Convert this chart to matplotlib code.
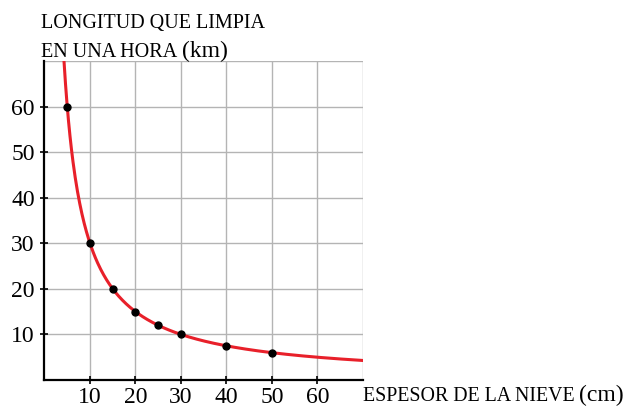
import numpy as np
import matplotlib.pyplot as plt

# snow depth (cm) vs length cleared in one hour (km)
espesor = [5, 10, 15, 20, 25, 30, 40, 50]
longitud = [60, 30, 20, 15, 12, 10, 7.5, 6]
k = 300  # longitud * espesor
x_ticks = [10, 20, 30, 40, 50, 60]
y_ticks = [10, 20, 30, 40, 50, 60]

plt.rcParams['font.family'] = ['Liberation Serif', 'DejaVu Serif']

fig = plt.figure(figsize=(6.24, 4.07), dpi=100)
ax = fig.add_axes([0.0713, 0.0663, 0.5104, 0.784])

xs = np.linspace(k / 70, 70, 400)
ax.plot(xs, k / xs, color='#e8202a', lw=2.2, zorder=3)
ax.plot(espesor, longitud, 'o', color='black', ms=5, zorder=4)

ax.set_xlim(0, 70)
ax.set_ylim(0, 70)
ax.set_xticks(x_ticks)
ax.set_yticks(y_ticks)
ax.set_xticks([70], minor=True)
ax.set_yticks([70], minor=True)
ax.grid(True, which='both', color='#b4b4b4', lw=1.0)
ax.tick_params(which='major', direction='inout', length=6, width=1.2,
               labelsize=17, colors='black')
ax.tick_params(axis='x', pad=2)
ax.tick_params(axis='y', pad=4)
ax.tick_params(which='minor', length=0)
for s in ['top', 'right']:
    ax.spines[s].set_visible(False)
for s in ['left', 'bottom']:
    ax.spines[s].set_linewidth(1.6)

fig.text(0.066, 1 - 28 / 407, 'LONGITUD QUE LIMPIA', fontsize=14.5, va='baseline')
fig.text(0.066, 1 - 57 / 407, 'EN UNA HORA', fontsize=14.5, va='baseline')
fig.text(182 / 624, 1 - 57 / 407, '(km)', fontsize=17, va='baseline')
fig.text(363 / 624, 1 - 401 / 407, 'ESPESOR DE LA NIEVE', fontsize=14.3, va='baseline')
fig.text(579 / 624, 1 - 401 / 407, '(cm)', fontsize=17, va='baseline')

fig.savefig('out.png', dpi=100)
